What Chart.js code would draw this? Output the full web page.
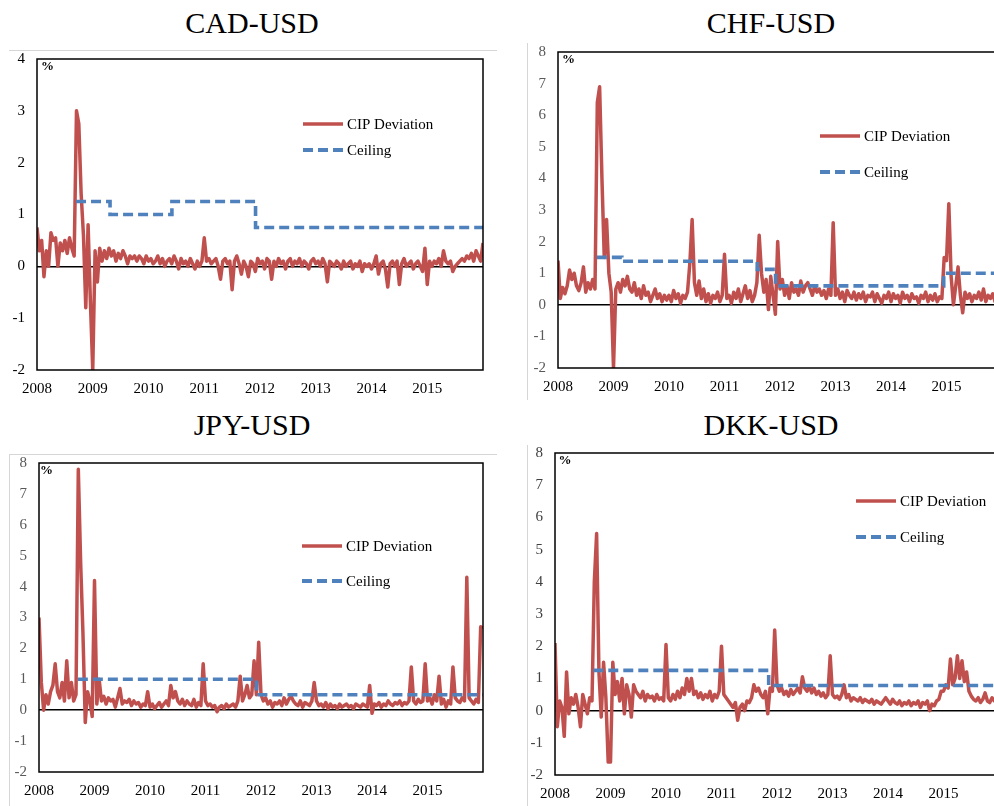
<!DOCTYPE html>
<html>
<head>
<meta charset="utf-8">
<script src="https://cdn.jsdelivr.net/npm/chart.js@4.4.1/dist/chart.umd.min.js"></script>
<style>
  html, body { margin: 0; padding: 0; background: #fff; overflow: hidden; width: 994px; height: 806px; }
  body { position: relative; }
  .title { position: absolute; font-family: "Liberation Serif", "Times New Roman", serif; font-size: 30px;
           line-height: 30px; color: #000; white-space: nowrap; transform: translateX(-50%); }
  canvas { position: absolute; }
  .hl { position: absolute; height: 0; border-top: 1px solid #d6d6d6; }
  .vl { position: absolute; width: 0; border-left: 1px solid #d6d6d6; }
</style>
</head>
<body>
<div class="hl" style="left:9px;top:50px;width:488px"></div>
<div class="vl" style="left:527px;top:43px;height:357px"></div>
<div class="hl" style="left:9px;top:454px;width:488px"></div>
<div class="vl" style="left:9px;top:454px;height:352px"></div>
<div class="vl" style="left:527px;top:445px;height:361px"></div>

<div class="title" style="left:252px;top:8px">CAD-USD</div>
<div class="title" style="left:771px;top:8px">CHF-USD</div>
<div class="title" style="left:252px;top:410px">JPY-USD</div>
<div class="title" style="left:771px;top:410px">DKK-USD</div>

<canvas id="cad" width="497" height="348" style="left:0;top:52px;width:497px;height:348px"></canvas>
<canvas id="chf" width="510" height="355" style="left:510px;top:45px;width:510px;height:355px"></canvas>
<canvas id="jpy" width="485" height="350" style="left:12px;top:456px;width:485px;height:350px"></canvas>
<canvas id="dkk" width="500" height="360" style="left:520px;top:446px;width:500px;height:360px"></canvas>

<script>
// Fortnightly sampling grid, 2008 through 2016 (24 observations per year)
const sampleDates = Array.from({ length: 8 * 24 + 1 }, (_, i) => 2008 + i / 24);

const seriesNames = ['CIP Deviation', 'Ceiling'];
const unitLabel = '%';

// CIP deviations, percent
const cadDeviation = [
  0.75, 0.3, 0.5, -0.2, 0.3, 0.0, 0.65, 0.5, 0.55, 0.0, 0.45, 0.3, 0.5, 0.25, 0.55, 0.35, 0.2, 3.0, 2.75, 1.4, 0.6, -0.8, 0.8, -0.7,
  -2.0, 0.3, -0.3, 0.35, 0.1, 0.3, 0.15, 0.35, 0.2, 0.3, 0.1, 0.25, 0.15, 0.3, 0.2, 0.05, 0.2, 0.15, 0.2, 0.1, 0.2, 0.15, 0.05, 0.2,
  0.1, 0.15, 0.05, 0.1, 0.2, 0.05, 0.15, 0.0, 0.1, 0.15, 0.05, 0.2, 0.1, -0.05, 0.15, 0.05, 0.1, 0.0, 0.15, 0.05, -0.05, 0.1, 0.0, 0.1,
  0.55, 0.1, 0.15, 0.05, 0.1, 0.15, 0.0, -0.25, 0.1, 0.15, 0.05, 0.1, -0.45, 0.1, 0.2, 0.05, -0.15, 0.1, 0.0, -0.2, 0.1, 0.05, -0.1, 0.15,
  0.05, 0.1, -0.05, 0.15, 0.1, -0.25, 0.1, 0.0, 0.15, 0.05, 0.1, -0.05, 0.1, 0.15, 0.0, 0.1, 0.05, 0.15, 0.0, 0.1, 0.05, -0.05, 0.1, 0.15,
  0.05, 0.1, 0.0, 0.15, 0.05, -0.3, 0.1, 0.05, 0.0, 0.1, 0.05, -0.05, 0.1, 0.0, 0.05, 0.1, -0.05, 0.05, 0.0, 0.1, -0.1, 0.05, 0.0, 0.05,
  -0.05, 0.05, 0.2, -0.15, 0.05, 0.1, -0.05, -0.4, 0.05, 0.1, 0.0, 0.1, -0.35, 0.05, 0.15, 0.0, 0.05, 0.1, -0.05, 0.05, 0.1, 0.0, -0.1, 0.35,
  -0.35, 0.1, 0.0, 0.1, 0.05, 0.15, 0.0, 0.3, 0.1, 0.05, 0.1, -0.1, 0.0, 0.05, 0.1, 0.15, 0.1, 0.2, 0.15, 0.25, 0.1, 0.3, 0.2, 0.1,
  0.45
];
const chfDeviation = [
  1.4, 0.2, 0.55, 0.35, 0.6, 1.1, 0.8, 1.0, 0.6, 0.45, 0.7, 1.2, 0.4, 0.7, 0.5, 0.8, 0.5, 6.4, 6.9, 4.0, 1.5, 2.7, 1.0, 0.4,
  -2.0, 0.5, 0.7, 0.4, 0.8, 0.6, 0.9, 0.5, 0.4, 0.7, 0.3, 0.5, 0.2, 0.6, 0.3, 0.4, 0.1, 0.3, 0.5, 0.2, 0.35, 0.1, 0.3, 0.15,
  0.3, 0.1, 0.45, 0.2, 0.35, 0.05, 0.3, 0.2, 0.4, 1.3, 2.7, 0.7, 0.3, 0.75, 0.2, 0.5, 0.1, 0.35, 0.05, 0.3, 0.2, 0.4, 0.1, 0.3,
  1.6, 0.2, 0.3, 0.05, 0.4, 0.2, 0.5, 0.1, 0.35, 0.6, 0.2, 0.45, 0.1, 0.3, 0.7, 2.2, 1.0, 0.4, 0.8, -0.15, 0.9, 0.3, -0.3, 2.0,
  0.5, 0.8, 0.3, 0.6, 0.2, 0.7, 0.4, 0.5, 0.3, 0.75, 0.4, 0.6, 0.7, 0.5, 0.3, 0.6, 0.4, 0.5, 0.3, 0.45, 0.2, 0.5, 0.3, 2.6,
  0.3, 0.5, 0.2, 0.4, 0.1, 0.45, 0.3, 0.2, 0.4, 0.15, 0.35, 0.2, 0.4, 0.1, 0.3, 0.25, 0.4, 0.1, 0.35, 0.2, 0.05, 0.3, 0.2, 0.4,
  0.1, 0.35, 0.2, 0.3, 0.05, 0.4, 0.2, 0.3, 0.1, 0.35, 0.2, 0.25, 0.05, 0.3, 0.2, 0.4, 0.1, 0.3, 0.15, 0.35, 0.1, 0.25, 0.2, 1.5,
  1.4, 3.2, 0.9, 0.0, 0.6, 1.2, 0.3, -0.25, 0.4, 0.2, 0.35, 0.1, 0.3, 0.2, 0.4, 0.15, 0.5, 0.1, 0.3, 0.2, 0.35, 0.1, 0.3, 0.2,
  0.3
];
const jpyDeviation = [
  3.0, 0.9, 0.0, 0.5, 0.2, 0.6, 0.8, 1.5, 0.6, 0.4, 0.9, 0.3, 1.6, 0.4, 0.9, 0.3, 0.5, 7.8, 4.8, 2.5, -0.4, 0.6, 0.3, -0.2,
  4.2, 0.2, 1.0, 0.3, 0.45, 0.2, 0.4, 0.3, 0.35, 0.1, 0.4, 0.7, 0.2, 0.3, 0.25, 0.35, 0.15, 0.3, 0.2, 0.25, 0.1, 0.2, 0.15, 0.6,
  0.1, 0.2, 0.05, 0.15, 0.25, 0.1, 0.2, 0.3, 0.15, 0.8, 0.4, 0.6, 0.3, 0.2, 0.35, 0.15, 0.3, 0.2, 0.15, 0.35, 0.1, 0.25, 0.15, 1.5,
  0.3, 0.15, 0.2, 0.1, 0.15, -0.05, 0.1, 0.15, 0.05, 0.2, 0.1, 0.15, 0.2, 0.1, 0.3, 1.1, 0.3, 0.5, 0.8, 0.4, 0.5, 1.6, 0.5, 2.2,
  0.5, 0.3, 0.4, 0.2, 0.3, 0.1, 0.25, 0.2, 0.3, 0.15, 0.4, 0.2, 0.35, 0.45, 0.3, 0.2, 0.15, 0.3, 0.1, 0.25, 0.2, 0.15, 0.3, 0.9,
  0.3, 0.15, 0.2, 0.1, 0.25, 0.05, 0.2, 0.1, 0.15, 0.05, 0.2, 0.1, 0.15, 0.2, 0.1, 0.15, 0.05, 0.2, 0.15, 0.1, 0.2, 0.15, 0.1, 0.8,
  -0.1, 0.2, 0.15, 0.25, 0.1, 0.2, 0.15, 0.3, 0.2, 0.15, 0.25, 0.2, 0.3, 0.15, 0.25, 0.2, 0.3, 1.4, 0.3, 0.2, 0.35, 0.25, 0.3, 1.5,
  0.3, 0.4, 0.2, 0.5, 0.3, 1.1, 0.2, 0.35, 0.1, 0.3, 0.2, 1.4, 0.4, 0.3, 0.25, 0.4, 0.3, 4.3, 0.4, 0.3, 0.2, 0.35, 0.25, 2.7,
  2.65
];
const dkkDeviation = [
  2.1, -0.5, 0.3, 0.1, -0.8, 1.2, -0.1, 0.4, 0.2, 0.5, 0.1, -0.5, 0.5, 0.2, -0.1, 0.4, 0.3, 4.0, 5.5, 1.2, -0.2, 1.5, 0.4, -1.6,
  -1.6, 1.5, 0.5, 0.9, 0.3, 1.0, -0.1, 0.8, 0.5, -0.2, 0.8, 0.6, 0.5, 0.4, 0.6, 0.3, 0.5, 0.4, 0.45, 0.3, 0.5, 0.35, 0.4, 0.3,
  2.05, 0.4, 0.3, 0.5, 0.35, 0.6, 0.4, 0.7, 0.5, 1.0, 0.6, 1.0, 0.5, 0.6, 0.4, 0.55, 0.35, 0.5, 0.4, 0.6, 0.3, 0.5, 0.4, 0.6,
  2.0, 0.5, 0.4, 0.3, 0.2, 0.1, 0.25, -0.3, 0.1, 0.2, 0.0, 0.3, 0.25, 0.4, 0.8, 0.6, 0.7, 0.5, 0.4, 0.6, -0.1, 0.7, 0.6, 2.5,
  0.8, 0.6, 0.7, 0.5, 0.6, 0.45, 0.65, 0.5, 0.6, 0.7, 0.55, 1.05, 0.7, 0.6, 0.75, 0.55, 0.7, 0.5, 0.6, 0.45, 0.55, 0.4, 0.5, 1.7,
  0.5, 0.4, 0.45, 0.35, 0.5, 0.8, 0.4, 0.5, 0.3, 0.4, 0.35, 0.3, 0.4, 0.25, 0.35, 0.3, 0.25, 0.35, 0.2, 0.3, 0.25, 0.2, 0.3, 0.4,
  0.3, 0.2, 0.35, 0.25, 0.2, 0.3, 0.15, 0.25, 0.2, 0.3, 0.15, 0.25, 0.2, 0.3, 0.1, 0.25, 0.2, 0.3, 0.0, 0.2, 0.15, 0.3, 0.35, 0.6,
  0.6, 0.8, 0.7, 1.6, 0.8, 1.0, 1.7, 1.0, 1.55, 0.9, 1.2, 0.6, 0.45, 0.35, 0.3, 0.4, 0.25, 0.35, 0.55, 0.3, 0.25, 0.4, 0.3, 0.35,
  0.35
];

// Ceiling regimes: start dates and levels (percent), held until the next date
const cadCeilingDates  = [2008.70, 2009.31, 2010.42, 2011.92, 2016.0];
const cadCeilingLevels = [1.25, 1.0, 1.25, 0.75, 0.75];
const chfCeilingDates  = [2008.70, 2009.15, 2011.59, 2011.92, 2014.95, 2016.0];
const chfCeilingLevels = [1.5, 1.38, 1.12, 0.6, 1.0, 1.0];
const jpyCeilingDates  = [2008.70, 2011.92, 2016.0];
const jpyCeilingLevels = [1.0, 0.5, 0.5];
const dkkCeilingDates  = [2008.69, 2011.85, 2016.0];
const dkkCeilingLevels = [1.25, 0.78, 0.78];

const RED = '#C0504D';
const BLUE = '#4F81BD';
const SERIF = '"Liberation Serif", "Times New Roman", serif';

// Plot frame, unit label and in-plot legend
const framePlugin = {
  id: 'frame',
  afterDatasetsDraw(chart, args, opts) {
    const a = chart.chartArea, ctx = chart.ctx;
    ctx.save();
    ctx.strokeStyle = '#000';
    ctx.lineWidth = 1.5;
    ctx.strokeRect(a.left, a.top, a.right - a.left, a.bottom - a.top);

    ctx.fillStyle = '#000';
    ctx.font = 'bold 13px ' + SERIF;
    ctx.textBaseline = 'middle';
    ctx.textAlign = 'left';
    ctx.fillText(unitLabel, a.left + opts.pctDx, a.top + 8);

    ctx.font = '15px ' + SERIF;
    chart.data.datasets.forEach((ds, i) => {
      const y = a.top + opts.legendY[i];
      const x0 = a.left + opts.legendX;
      ctx.beginPath();
      ctx.setLineDash(ds.borderDash || []);
      ctx.strokeStyle = ds.borderColor;
      ctx.lineWidth = i === 0 ? 3.5 : 4;
      ctx.moveTo(x0, y);
      ctx.lineTo(x0 + 40, y);
      ctx.stroke();
      ctx.setLineDash([]);
      ctx.fillStyle = '#000';
      ctx.fillText(ds.label, x0 + 44, y + 1);
    });
    ctx.restore();
  }
};

function makePanel(id, deviation, ceilDates, ceilLevels, yMax, g) {
  const devPoints = sampleDates.map((d, i) => ({ x: d, y: deviation[i] }));
  const ceilPoints = ceilDates.map((d, i) => ({ x: d, y: ceilLevels[i] }));
  new Chart(document.getElementById(id), {
    type: 'line',
    data: {
      datasets: [
        { label: seriesNames[0], data: devPoints, borderColor: RED, borderWidth: 3.5,
          pointRadius: 0, tension: 0, borderJoinStyle: 'round', order: 1 },
        { label: seriesNames[1], data: ceilPoints, borderColor: BLUE, borderWidth: 3.6,
          borderDash: [10, 5], pointRadius: 0, stepped: 'before', order: 0 }
      ]
    },
    options: {
      responsive: false,
      animation: false,
      devicePixelRatio: 1,
      layout: { padding: { top: g.padTop, right: g.padRight, left: 0, bottom: 0 } },
      plugins: {
        legend: { display: false },
        tooltip: { enabled: false },
        frame: { pctDx: g.pctDx, legendX: g.legendX, legendY: g.legendY }
      },
      scales: {
        x: {
          type: 'linear', min: 2008, max: 2016,
          afterFit(s) { s.height = g.xAxisH; s.paddingLeft = 0; s.paddingRight = 0; },
          grid: { display: false, drawTicks: false },
          border: { display: false },
          ticks: {
            stepSize: 1, autoSkip: false, maxRotation: 0, padding: 10, color: '#000',
            font: { family: SERIF, size: 15 },
            callback: v => (v < 2016 ? String(v) : '')
          }
        },
        y: {
          min: -2, max: yMax,
          afterFit(s) { s.width = g.yAxisW; s.paddingTop = 0; s.paddingBottom = 0; },
          border: { display: false },
          grid: {
            drawTicks: false, lineWidth: 1.5,
            color: c => (c.tick && c.tick.value === 0 ? '#000' : 'rgba(0,0,0,0)')
          },
          ticks: {
            stepSize: 1, padding: 12, color: g.yColor,
            font: { family: SERIF, size: 15 }
          }
        }
      }
    },
    plugins: [framePlugin]
  });
}

makePanel('cad', cadDeviation, cadCeilingDates, cadCeilingLevels, 4,
  { padTop: 7, padRight: 14, xAxisH: 30, yAxisW: 37, yColor: '#000', pctDx: 4, legendX: 266, legendY: [65, 91] });
makePanel('chf', chfDeviation, chfCeilingDates, chfCeilingLevels, 8,
  { padTop: 7, padRight: 18, xAxisH: 32, yAxisW: 48, yColor: '#595959', pctDx: 4, legendX: 262, legendY: [84, 120] });
makePanel('jpy', jpyDeviation, jpyCeilingDates, jpyCeilingLevels, 8,
  { padTop: 7, padRight: 14, xAxisH: 34, yAxisW: 27, yColor: '#595959', pctDx: 1, legendX: 263, legendY: [83, 118] });
makePanel('dkk', dkkDeviation, dkkCeilingDates, dkkCeilingLevels, 8,
  { padTop: 7, padRight: 21, xAxisH: 31, yAxisW: 35, yColor: '#404040', pctDx: 3.5, legendX: 301, legendY: [48, 84] });
</script>
</body>
</html>
